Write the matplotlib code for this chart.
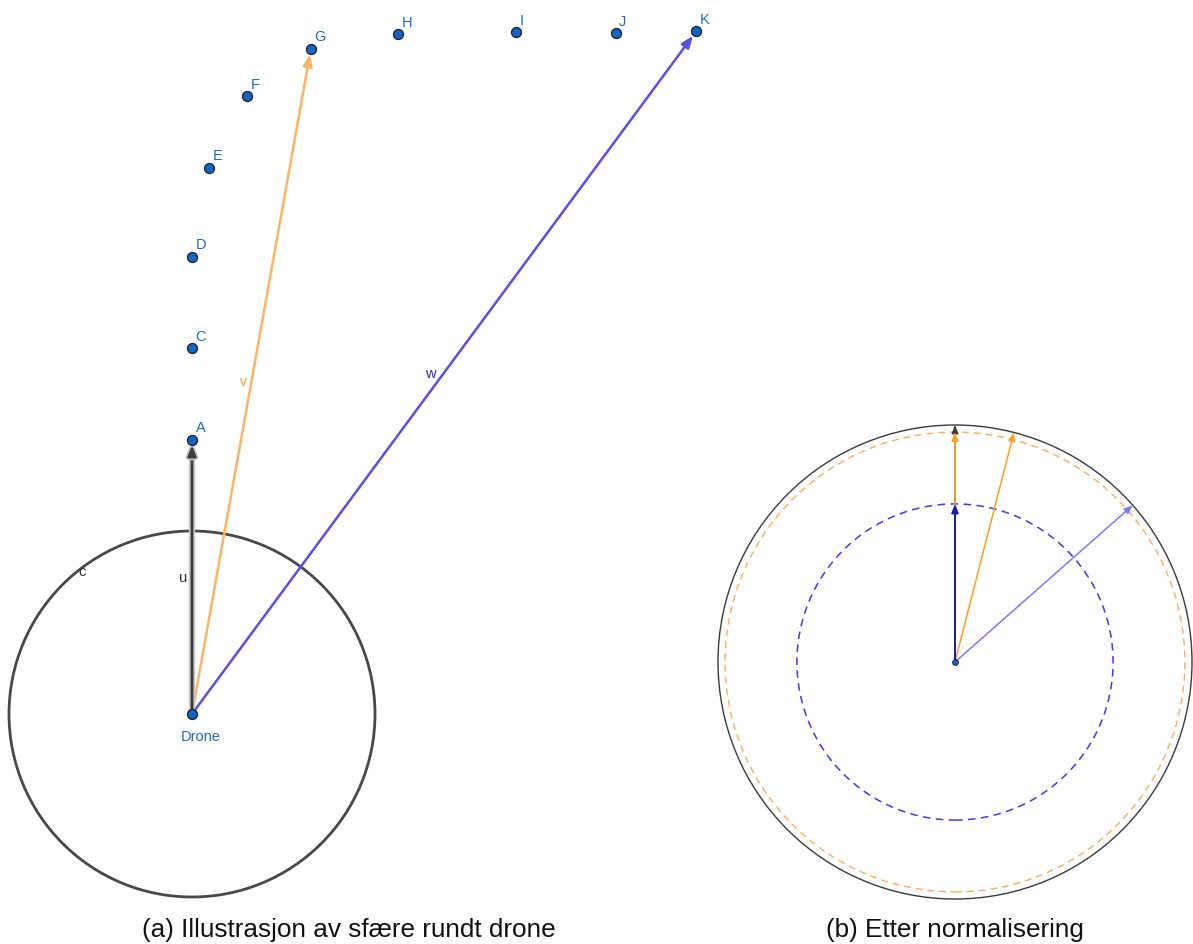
import numpy as np
import matplotlib
matplotlib.use("Agg")
import matplotlib.pyplot as plt
import matplotlib.patheffects as pe
from matplotlib.patches import Circle, FancyArrowPatch

plt.rcParams['font.family'] = ['Liberation Sans', 'DejaVu Sans']

# (a) points around the drone, drone at origin, sphere radius 2
names = ["A", "C", "D", "E", "F", "G", "H", "I", "J", "K"]
px = [0.0, 0.0, 0.0, 0.19, 0.60, 1.30, 2.25, 3.54, 4.63, 5.51]
py = [3.0, 4.0, 5.0, 5.97, 6.75, 7.27, 7.43, 7.45, 7.44, 7.46]
drone = (0.0, 0.0)
sphere_r = 2.0

# (b) normalised vectors, unit outer sphere
r_outer = 1.0
r_orange = 0.97
r_blue = 0.667
ang_v = 75.6   # degrees
ang_w = 41.4

W, H = 1193, 945
fig = plt.figure(figsize=(W / 100, H / 100), dpi=100)

# ---------- left panel ----------
s = 91.5   # px per unit
cx, cy = 192, 715
x0, x1, ytop, ybot = 0, 730, 0, 910
ax = fig.add_axes([x0 / W, (H - ybot) / H, (x1 - x0) / W, (ybot - ytop) / H])
ax.set_xlim((x0 - cx) / s, (x1 - cx) / s)
ax.set_ylim((cy - ybot) / s, (cy - ytop) / s)
ax.axis("off")

ax.add_patch(Circle(drone, sphere_r, fill=False, ec="#484848", lw=2.0, zorder=2))

pts = dict(zip(names, zip(px, py)))
A = pts["A"]; G = pts["G"]; K = pts["K"]

def vec(a, tail, tip, color, lw, hw, hl, z, shrink=4.0, effects=None):
    arr = FancyArrowPatch(tail, tip, arrowstyle=f"-|>,head_width={hw},head_length={hl}",
                          color=color, lw=lw, shrinkA=0, shrinkB=shrink, zorder=z,
                          mutation_scale=1)
    if effects:
        arr.set_path_effects(effects)
    a.add_patch(arr)

vec(ax, drone, K, "#5a50e0", 1.8, 2.8, 7, 3)
vec(ax, drone, G, "#ffb366", 1.8, 2.8, 7, 3)
vec(ax, drone, A, "#3c3c3c", 2.0, 2.4, 6, 4,
    effects=[pe.Stroke(linewidth=4.5, foreground="#c8c8c8"), pe.Normal()])

ax.plot(px, py, "o", ms=7.2, mfc="#1565c0", mec="#1c1c2c", mew=0.9, zorder=5)
ax.plot(*drone, "o", ms=7.2, mfc="#1565c0", mec="#1c1c2c", mew=0.9, zorder=5)

for n, x, y in zip(names, px, py):
    ax.annotate(n, (x, y), xytext=(2.5, 6), textcoords="offset points",
                color="#1e6ac8", fontsize=10.5, ha="left", va="baseline")
ax.annotate("Drone", drone, xytext=(6, -16), textcoords="offset points",
            color="#1e6ac8", fontsize=10.5, ha="center", va="center")

# vector and circle labels
ax.annotate("u", (A[0] / 2, A[1] / 2), xytext=(-6.5, 0), textcoords="offset points",
            color="#333333", fontsize=10.5, ha="center", va="center")
ax.annotate("v", (G[0] / 2, G[1] / 2), xytext=(-5.5, 0), textcoords="offset points",
            color="#ff9a30", fontsize=10, ha="center", va="center")
ax.annotate("w", (K[0] / 2, K[1] / 2), xytext=(-10, 0), textcoords="offset points",
            color="#2a2aa8", fontsize=10.5, ha="center", va="center")
ca = np.deg2rad(127.6)
ax.text(0.985 * sphere_r * np.cos(ca), 0.985 * sphere_r * np.sin(ca), "c",
        color="#333333", fontsize=10.5, ha="center", va="center")

# ---------- right panel ----------
R = 237
bx, by = 955, 663
x0, x1, ytop, ybot = 700, 1193, 400, 910
bx_ax = fig.add_axes([x0 / W, (H - ybot) / H, (x1 - x0) / W, (ybot - ytop) / H])
bx_ax.set_xlim((x0 - bx) / R, (x1 - bx) / R)
bx_ax.set_ylim((by - ybot) / R, (by - ytop) / R)
bx_ax.axis("off")

bx_ax.add_patch(Circle((0, 0), r_outer, fill=False, ec="#3a3a3a", lw=1.0, zorder=2, clip_on=False))
bx_ax.add_patch(Circle((0, 0), r_orange, fill=False, ec="#ffad5c", lw=1.0,
                       ls=(0, (5, 3.5)), zorder=2))
bx_ax.add_patch(Circle((0, 0), r_blue, fill=False, ec="#3a3aff", lw=1.1,
                       ls=(0, (5, 3.5)), zorder=2))

o = (0, 0)
vec(bx_ax, o, (0, r_outer), "#3a3a3a", 1.0, 2.0, 5, 3, shrink=0)
vec(bx_ax, o, (0, r_orange), "#ffa020", 1.2, 2.0, 5, 4, shrink=0)
tv = np.deg2rad(ang_v)
vec(bx_ax, o, (r_outer * np.cos(tv), r_outer * np.sin(tv)), "#ffa020", 1.1, 2.0, 5, 4, shrink=0)
tw = np.deg2rad(ang_w)
vec(bx_ax, o, (r_outer * np.cos(tw), r_outer * np.sin(tw)), "#7b7bff", 1.1, 2.0, 5, 4, shrink=0)
vec(bx_ax, o, (0, r_blue), "#1a1aa8", 1.4, 2.0, 5, 5, shrink=0)
bx_ax.plot(0, 0, "o", ms=4.2, mfc="#1565c0", mec="#1c1c2c", mew=0.6, zorder=6)

# captions
fig.text(349 / W, 1 - 930 / H, "(a) Illustrasjon av sfære rundt drone",
         ha="center", va="center", fontsize=18.8, color="#111111")
fig.text(955 / W, 1 - 930 / H, "(b) Etter normalisering",
         ha="center", va="center", fontsize=18.8, color="#111111")

fig.savefig("out.png", dpi=100)
